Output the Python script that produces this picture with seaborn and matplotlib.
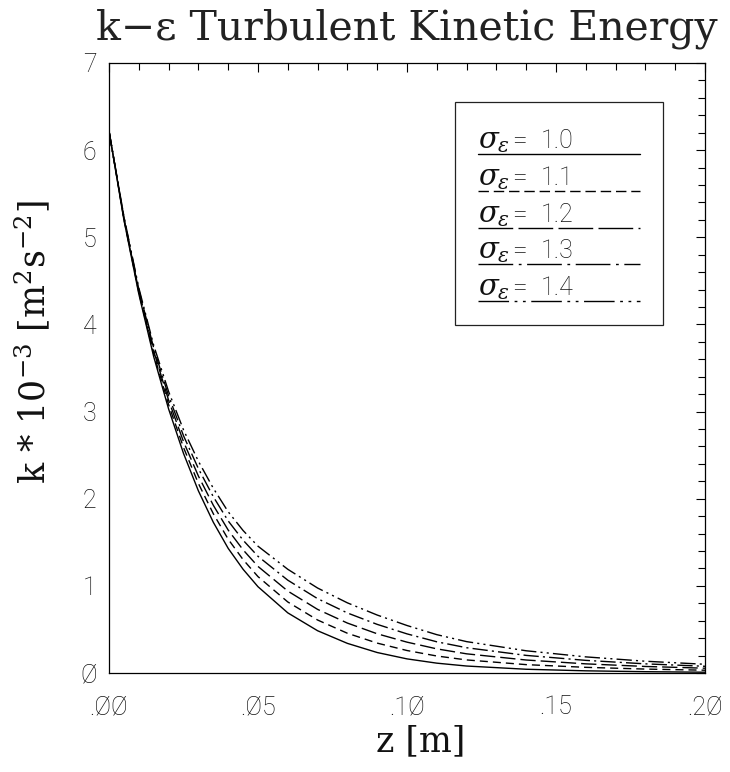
import numpy as np
import pandas as pd
import matplotlib
matplotlib.use("Agg")
import matplotlib.pyplot as plt
from matplotlib.ticker import MultipleLocator
from matplotlib.lines import Line2D
from matplotlib.patches import Rectangle
import seaborn as sns

# ---------------- data ----------------
z = [0.0, 0.005, 0.01, 0.015, 0.02, 0.025, 0.03, 0.035, 0.04, 0.045, 0.05,
     0.06, 0.07, 0.08, 0.09, 0.10, 0.11, 0.12, 0.14, 0.16, 0.18, 0.20]
k_s10 = [6.22, 5.20, 4.35, 3.63, 3.03, 2.52, 2.09, 1.73, 1.43, 1.19, 0.99,
         0.69, 0.485, 0.34, 0.235, 0.162, 0.113, 0.080, 0.043, 0.025, 0.015, 0.009]
k_s11 = [6.22, 5.21, 4.368, 3.663, 3.08, 2.588, 2.175, 1.828, 1.535, 1.301, 1.106,
         0.815, 0.608, 0.456, 0.343, 0.258, 0.195, 0.150, 0.096, 0.065, 0.045, 0.032]
k_s12 = [6.22, 5.22, 4.385, 3.695, 3.13, 2.655, 2.26, 1.925, 1.64, 1.413, 1.223,
         0.94, 0.73, 0.573, 0.45, 0.354, 0.277, 0.220, 0.149, 0.105, 0.075, 0.055]
k_s13 = [6.22, 5.23, 4.403, 3.728, 3.18, 2.723, 2.345, 2.023, 1.745, 1.524, 1.339,
         1.065, 0.853, 0.689, 0.558, 0.449, 0.358, 0.290, 0.202, 0.145, 0.105, 0.077]
k_s14 = [6.22, 5.24, 4.42, 3.76, 3.23, 2.79, 2.43, 2.12, 1.85, 1.635, 1.455,
         1.19, 0.975, 0.805, 0.665, 0.545, 0.44, 0.36, 0.255, 0.185, 0.135, 0.10]

sigma_labels = ["1.0", "1.1", "1.2", "1.3", "1.4"]
series = [k_s10, k_s11, k_s12, k_s13, k_s14]

x_ticks = [0.0, 0.05, 0.10, 0.15, 0.20]
x_tick_labels = [".ØØ", ".Ø5", ".1Ø", ".15", ".2Ø"]
y_ticks = [0, 1, 2, 3, 4, 5, 6, 7]
y_tick_labels = ["Ø", "1", "2", "3", "4", "5", "6", "7"]

title = "k\u2212\u03b5 Turbulent Kinetic Energy"
xlabel = "z [m]"
ylabel = r"k $*$ 10$^{-3}$ [m$^2$s$^{-2}$]"

df = pd.DataFrame({
    "z": np.tile(z, len(series)),
    "k": np.concatenate(series),
    "sigma": np.repeat(sigma_labels, len(z)),
})

# ---------------- styling ----------------
sns.set_theme(style="white")
SERIF = ["DejaVu Serif", "Liberation Serif"]
plt.rcParams["font.family"] = SERIF
plt.rcParams["mathtext.fontset"] = "dejavuserif"

W, H = 730, 772
fig = plt.figure(figsize=(W / 100, H / 100), dpi=100)
L, R, T, B = 109, 705, 63, 673
ax = fig.add_axes([L / W, 1 - B / H, (R - L) / W, (B - T) / H])

dash_map = {
    "1.0": "",
    "1.1": (5.8, 3.6),
    "1.2": (11, 3.6),
    "1.3": (11, 3.0, 1.5, 3.0),
    "1.4": (11, 3.0, 1.5, 3.0, 1.5, 3.0),
}

sns.lineplot(data=df, x="z", y="k", style="sigma", dashes=dash_map,
             color="black", linewidth=1.0, legend=False, ax=ax,
             estimator=None, sort=False)

ax.set_xlim(0, 0.20)
ax.set_ylim(0, 7)
ax.set_xticks(x_ticks)
ax.set_xticklabels(x_tick_labels)
ax.set_yticks(y_ticks)
ax.set_yticklabels(y_tick_labels)
ax.xaxis.set_minor_locator(MultipleLocator(0.01))
ax.yaxis.set_minor_locator(MultipleLocator(0.2))
ax.tick_params(which="both", direction="in", top=True, right=True,
               color="black", width=0.8)
ax.tick_params(which="major", length=6.8)
ax.tick_params(which="minor", length=4.8)
ax.tick_params(axis="x", which="major", pad=16)
ax.tick_params(axis="y", which="major", pad=9)
for lab in ax.get_xticklabels() + ax.get_yticklabels():
    lab.set_family(["Roboto", "DejaVu Sans"])
    lab.set_fontweight("light")
    lab.set_fontsize(18)
    lab.set_color("#111111")
for sp in ax.spines.values():
    sp.set_color("black")
    sp.set_linewidth(0.9)
ax.grid(False)

ax.set_title(title, fontsize=29.5, pad=17, color="#222222")
ax.set_xlabel(xlabel, fontsize=25, color="#111111")
ax.set_ylabel(ylabel, fontsize=25, color="#111111")
ax.xaxis.set_label_coords((421 - L) / (R - L), (B - 724) / (B - T))
ax.yaxis.set_label_coords((52 - L) / (R - L), (B - 342) / (B - T))


def fx(px):
    return (px - L) / (R - L)


def fy(py):
    return (B - py) / (B - T)


# ---------------- hand-drawn legend box ----------------
ax.add_patch(Rectangle((fx(455), fy(325)), fx(663) - fx(455), fy(102) - fy(325),
                       transform=ax.transAxes, fill=False, edgecolor="#222222",
                       linewidth=0.9, zorder=5))
legend_dashes = {
    "1.0": None,
    "1.1": (7.5, 3.5),
    "1.2": (25, 3.8),
    "1.3": (25, 4, 2, 4),
    "1.4": (22, 4, 2, 4, 2, 4),
}
for i, lab in enumerate(sigma_labels):
    ly = 154.3 + i * 36.7
    ln = Line2D([fx(478), fx(640)], [fy(ly), fy(ly)], transform=ax.transAxes,
                color="black", linewidth=1.0, zorder=6)
    if legend_dashes[lab] is not None:
        ln.set_dashes(legend_dashes[lab])
    ax.add_line(ln)
    ax.text(fx(478), fy(ly - 6), r"$\sigma_{\varepsilon}$", transform=ax.transAxes,
            fontsize=21, ha="left", va="baseline", color="#111111", zorder=7)
    ax.text(fx(512), fy(ly - 6), "=", transform=ax.transAxes,
            fontsize=19, ha="left", va="baseline", color="#111111", zorder=7,
            family=["Roboto", "DejaVu Sans"], fontweight="light")
    ax.text(fx(541), fy(ly - 6), lab, transform=ax.transAxes,
            fontsize=18, ha="left", va="baseline", color="#111111", zorder=7,
            family=["Roboto", "DejaVu Sans"], fontweight="light")

fig.savefig("out.png", dpi=100)
